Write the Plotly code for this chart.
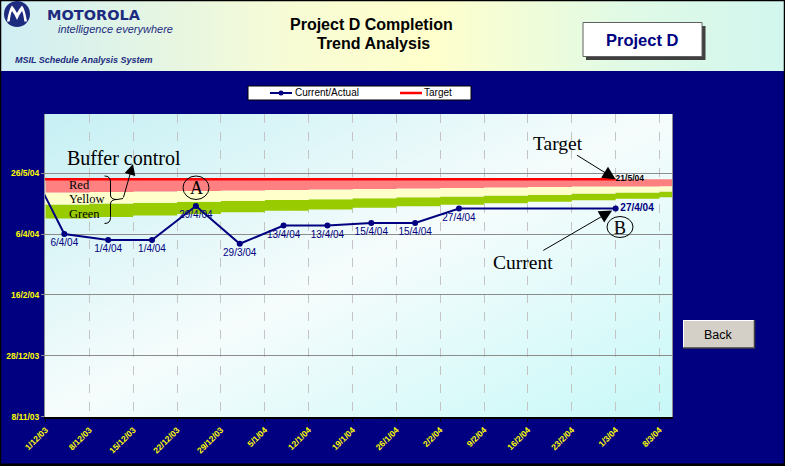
import base64
from datetime import datetime, timedelta
import plotly.graph_objects as go

# ---------------- data ----------------
actual_dates = ["2003-11-27", "2003-12-04", "2003-12-11", "2003-12-18", "2003-12-25",
                "2004-01-01", "2004-01-08", "2004-01-15", "2004-01-22", "2004-01-29",
                "2004-02-05", "2004-03-01"]
actual_values = ["2004-06-16", "2004-04-06", "2004-04-01", "2004-04-01", "2004-04-29",
                 "2004-03-29", "2004-04-13", "2004-04-13", "2004-04-15", "2004-04-15",
                 "2004-04-27", "2004-04-27"]
target_value = "2004-05-21"

buffer_weeks = ["2003-12-01", "2003-12-08", "2003-12-15", "2003-12-22", "2003-12-29",
                "2004-01-05", "2004-01-12", "2004-01-19", "2004-01-26", "2004-02-02",
                "2004-02-09", "2004-02-16", "2004-02-23", "2004-03-01", "2004-03-08",
                "2004-03-15"]
red_zone_days = [10.9, 10.5, 10.1, 9.7, 9.3, 8.9, 8.5, 8.1, 7.6, 7.2, 6.8, 6.5, 6.1, 5.9, 5.7, 5.7]
yellow_zone_days = [9.8, 9.5, 9.2, 8.9, 8.6, 8.2, 7.9, 7.6, 7.3, 7.0, 6.6, 6.2, 5.7, 5.0, 4.4, 4.4]
green_zone_days = [11.5, 11.0, 10.4, 9.9, 9.3, 8.9, 8.4, 7.8, 7.4, 6.8, 6.4, 5.9, 5.5, 5.2, 4.7, 4.7]

x_tick_start = "2003-12-01"
y_tick_start = "2003-11-08"
x_range = ["2003-11-30 22:00", "2004-03-10"]
y_range = ["2003-11-07 20:00", "2004-07-13 12:00"]

# ---------------- helpers ----------------
SANS = "Liberation Sans, Arial, sans-serif"
SERIF = "Liberation Serif, Times New Roman, serif"
NAVY = "#000080"
LOGO = "#1C2B7E"
W, H = 785, 466
L, R, T, B = 45, 113, 114, 49
PW, PH = W - L - R, H - T - B


def fx(px):
    return (px - L) / PW


def fy(py):
    return (H - B - py) / PH


def to_d(s):
    return datetime.strptime(s, "%Y-%m-%d")


def fmt(s):
    d = to_d(s)
    return f"{d.day}/{d.month}/{d:%y}"


tgt = to_d(target_value)
pink_bottom = [tgt - timedelta(days=r) for r in red_zone_days]
yellow_bottom = [p - timedelta(days=y) for p, y in zip(pink_bottom, yellow_zone_days)]
green_bottom = [yb - timedelta(days=g) for yb, g in zip(yellow_bottom, green_zone_days)]
band_top = [tgt for _ in buffer_weeks]

fig = go.Figure()
common = dict(mode="lines", hoverinfo="skip", showlegend=False)
fig.add_trace(go.Scatter(x=buffer_weeks, y=green_bottom, line=dict(width=0, shape="hv"), **common))
fig.add_trace(go.Scatter(x=buffer_weeks, y=yellow_bottom, line=dict(width=0, shape="hv"),
                         fill="tonexty", fillcolor="#99CC00", name="Green", **common))
fig.add_trace(go.Scatter(x=buffer_weeks, y=pink_bottom, line=dict(width=0, shape="hv"),
                         fill="tonexty", fillcolor="#FFFFCC", name="Yellow", **common))
fig.add_trace(go.Scatter(x=buffer_weeks, y=band_top, line=dict(width=0, shape="hv"),
                         fill="tonexty", fillcolor="#FF8080", name="Red", **common))

# target line
fig.add_trace(go.Scatter(
    x=[actual_dates[0], actual_dates[-1]], y=[target_value, target_value],
    mode="lines+text", name="Target", showlegend=False,
    line=dict(color="#FF0000", width=2.5),
    text=["", "<b>" + fmt(target_value) + "</b>"], textposition="middle right",
    textfont=dict(family=SANS, size=8.5, color="black")))

# current / actual
labels = [""] + [fmt(v) for v in actual_values[1:]]
labels[-1] = "<b>" + labels[-1] + "</b>"
positions = ["bottom center"] * (len(labels) - 1) + ["middle right"]
fig.add_trace(go.Scatter(
    x=actual_dates, y=actual_values, mode="lines+markers+text", name="Current/Actual",
    showlegend=False, line=dict(color=NAVY, width=2), marker=dict(size=6, color=NAVY),
    text=labels, textposition=positions,
    textfont=dict(family=SANS, size=10, color=NAVY)))

# ---------------- backgrounds (gradients) ----------------
hdr_svg = ('<svg xmlns="http://www.w3.org/2000/svg" width="785" height="71" viewBox="0 0 785 71" '
           'preserveAspectRatio="none"><defs><linearGradient id="g" x1="0" y1="0" x2="1" y2="0">'
           '<stop offset="0" stop-color="#D0EEF4"/><stop offset="0.38" stop-color="#F8FCD4"/>'
           '<stop offset="0.55" stop-color="#FFFFCC"/><stop offset="0.8" stop-color="#E0FAE6"/>'
           '<stop offset="1" stop-color="#D2F6EE"/></linearGradient></defs>'
           '<rect width="785" height="71" fill="url(#g)"/></svg>')
plot_svg = ('<svg xmlns="http://www.w3.org/2000/svg" width="627" height="303" viewBox="0 0 627 303" '
            'preserveAspectRatio="none"><defs><linearGradient id="p" x1="0" y1="0" x2="1" y2="1">'
            '<stop offset="0" stop-color="#C6F0F4"/><stop offset="0.5" stop-color="#F6FCFC"/>'
            '<stop offset="1" stop-color="#C8F8F8"/></linearGradient></defs>'
            '<rect width="627" height="303" fill="url(#p)"/></svg>')


def uri(svg):
    return "data:image/svg+xml;base64," + base64.b64encode(svg.encode()).decode()


images = [
    dict(source=uri(hdr_svg), xref="paper", yref="paper", x=fx(0), y=fy(0),
         sizex=W / PW, sizey=71 / PH, xanchor="left", yanchor="top", sizing="stretch", layer="below"),
    dict(source=uri(plot_svg), xref="paper", yref="paper", x=0, y=1, sizex=1, sizey=1,
         xanchor="left", yanchor="top", sizing="stretch", layer="below"),
]

# ---------------- shapes ----------------
shapes = []


def rect(x0, y0, x1, y1, fill=None, line=None, lw=1):
    shapes.append(dict(type="rect", xref="paper", yref="paper", x0=fx(x0), x1=fx(x1),
                       y0=fy(y1), y1=fy(y0), fillcolor=fill or "rgba(0,0,0,0)",
                       line=dict(color=line or "rgba(0,0,0,0)", width=lw if line else 0)))


def seg(x0, y0, x1, y1, color, lw=1):
    shapes.append(dict(type="line", xref="paper", yref="paper", x0=fx(x0), x1=fx(x1),
                       y0=fy(y0), y1=fy(y1), line=dict(color=color, width=lw)))


def ellipse(x0, y0, x1, y1, fill=None, line=None, lw=1):
    shapes.append(dict(type="circle", xref="paper", yref="paper", x0=fx(x0), x1=fx(x1),
                       y0=fy(y1), y1=fy(y0), fillcolor=fill or "rgba(0,0,0,0)",
                       line=dict(color=line or "rgba(0,0,0,0)", width=lw if line else 0)))


def P(x, y):
    return f"{fx(x):.5f},{fy(y):.5f}"


# outer border
rect(0.5, 0.5, 784.5, 465, line="black", lw=1.5)
seg(0, 464.8, 785, 464.8, "black", 2.5)

# Motorola logo (batwing M)
ellipse(4, 1, 30, 27, fill=LOGO)
wing = ("M" + P(7, 21.5) + " Q" + P(9, 9) + " " + P(12, 5.5) +
        " Q" + P(15, 9) + " " + P(17, 13) +
        " Q" + P(19, 9) + " " + P(22, 5.5) +
        " Q" + P(25, 9) + " " + P(27, 21.5) +
        " L" + P(24.3, 21.5) + " Q" + P(23.5, 14) + " " + P(22, 11) +
        " Q" + P(19, 15) + " " + P(17, 20) +
        " Q" + P(15, 15) + " " + P(12, 11) +
        " Q" + P(10.5, 14) + " " + P(9.7, 21.5) + " Z")
shapes.append(dict(type="path", xref="paper", yref="paper", path=wing,
                   fillcolor="white", line=dict(width=0)))

# Project D box
rect(586, 26, 705.5, 60, fill="#404040")
rect(583, 22.5, 702, 56.5, fill="white", line="#606060", lw=1)

# Back button
rect(683, 320, 754, 348, fill="#D4D0C8")
seg(683, 320.5, 754, 320.5, "white", 1)
seg(683.5, 320, 683.5, 348, "white", 1)
seg(683, 348, 755, 348, "#404040", 1.5)
seg(754.5, 320, 754.5, 348.5, "#404040", 1.5)

# manual legend
rect(248, 86, 471, 100, fill="white", line="black", lw=1)
seg(270, 93, 292, 93, NAVY, 2)
ellipse(278.5, 90.5, 283.5, 95.5, fill=NAVY)
seg(400, 93, 422, 93, "#FF0000", 2.5)

# brace
brace = ("M" + P(104.5, 176) + " Q" + P(110.5, 176) + " " + P(110.5, 182) +
         " L" + P(110.5, 195) + " Q" + P(110.5, 199.5) + " " + P(117, 199.5) +
         " Q" + P(110.5, 199.5) + " " + P(110.5, 204) + " L" + P(110.5, 217.5) +
         " Q" + P(110.5, 223.5) + " " + P(104.5, 223.5))
shapes.append(dict(type="path", xref="paper", yref="paper", path=brace, line=dict(color="black", width=1)))
seg(117, 199.5, 123, 198.5, "black", 1)

# circled letters
ellipse(183, 176, 209, 199.5, line="black", lw=1)
ellipse(607, 216.5, 633, 237.5, line="black", lw=1)

# ---------------- annotations ----------------
ann = []


def txt(s, x, y, size, family=SANS, color="black", xanchor="center", bold=False, italic=False):
    ann.append(dict(text=s, xref="paper", yref="paper", x=fx(x), y=fy(y), xanchor=xanchor,
                    yanchor="middle", showarrow=False, borderpad=0,
                    font=dict(family=family, size=size, color=color,
                              weight="bold" if bold else "normal",
                              style="italic" if italic else "normal")))


txt("Project D Completion", 372, 24.5, 16, bold=True)
txt("Trend Analysis", 373.5, 43.5, 16, bold=True)
txt("MOTOROLA", 94, 15, 14.5, family="DejaVu Sans, sans-serif", color=LOGO, bold=True)
txt("intelligence everywhere", 56.5, 29.5, 11, color=LOGO, xanchor="left", italic=True)
txt("MSIL Schedule Analysis System", 13.5, 60.5, 9, color=LOGO, xanchor="left", bold=True, italic=True)
txt("Project D", 642.5, 40, 16.5, color=NAVY, bold=True)
txt("Back", 718.5, 334.5, 12.5)
txt("Current/Actual", 293.5, 93, 10, xanchor="left")
txt("Target", 423.5, 93, 10, xanchor="left")
txt("Buffer control", 123.5, 158, 20, family=SERIF)
txt("Red", 67.5, 184.5, 12.5, family=SERIF, xanchor="left")
txt("Yellow", 67.5, 199, 12.5, family=SERIF, xanchor="left")
txt("Green", 67.5, 213.5, 12.5, family=SERIF, xanchor="left")
txt("A", 196, 188, 18, family=SERIF)
txt("B", 620, 227.5, 18, family=SERIF)

ann.append(dict(text="", xref="paper", yref="paper", x=fx(133), y=fy(164), ax=-10, ay=35,
                showarrow=True, arrowhead=2, arrowsize=2.2, arrowwidth=1, arrowcolor="black"))
ann.append(dict(text="Target", x=actual_dates[-1], y=target_value, xref="x", yref="y",
                ax=-58, ay=-36, showarrow=True, arrowhead=2, arrowsize=2.6, arrowwidth=1,
                arrowcolor="black", standoff=0, font=dict(family=SERIF, size=19.5, color="black")))
ann.append(dict(text="Current", x=actual_dates[-1], y=actual_values[-1], xref="x", yref="y",
                ax=-93, ay=54, showarrow=True, arrowhead=2, arrowsize=2.6, arrowwidth=1,
                arrowcolor="black", standoff=4, font=dict(family=SERIF, size=19.5, color="black")))

tickfont = dict(family=SANS, size=8.5, color="#FFFF00", weight="bold")
fig.update_layout(
    width=W, height=H, margin=dict(l=L, r=R, t=T, b=B, autoexpand=False),
    paper_bgcolor=NAVY, plot_bgcolor="rgba(0,0,0,0)", showlegend=False, hovermode=False,
    images=images, shapes=shapes, annotations=ann,
    xaxis=dict(type="date", range=x_range, tick0=x_tick_start, dtick=7 * 86400000,
               tickformat="%-d/%-m/%y", tickangle=-45, tickfont=tickfont,
               showgrid=True, gridcolor="#C4C4C4", griddash="dash", gridwidth=1,
               showline=True, linecolor="black", linewidth=1.5, ticks="outside",
               ticklen=3, tickcolor="black", zeroline=False, fixedrange=True),
    yaxis=dict(type="date", range=y_range, tick0=y_tick_start, dtick=50 * 86400000,
               tickformat="%-d/%-m/%y", tickfont=tickfont,
               showgrid=True, gridcolor="#8C8C8C", gridwidth=1,
               showline=True, linecolor="#8C8C8C", linewidth=1, mirror=True,
               ticks="outside", ticklen=3, tickcolor="#8C8C8C", zeroline=False, fixedrange=True),
)

fig.write_html("out.html", config={"displayModeBar": False})
